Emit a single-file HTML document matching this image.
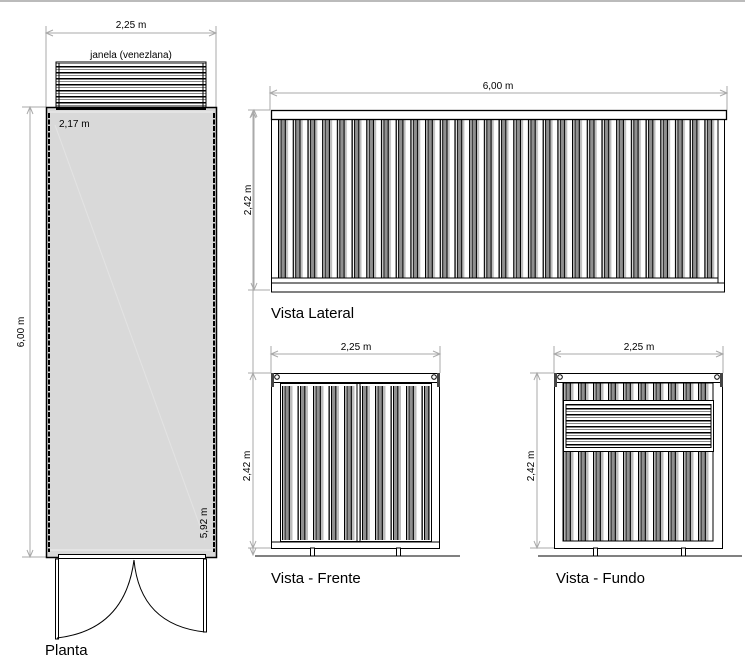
<!DOCTYPE html>
<html><head><meta charset="utf-8"><style>
html,body{margin:0;padding:0;background:#fff;}
svg{display:block;}
text{font-family:"Liberation Sans",sans-serif;fill:#000;}
</style></head><body>
<svg width="745" height="657" viewBox="0 0 745 657" xmlns="http://www.w3.org/2000/svg">
<defs>
<pattern id="corr" x="278" y="0" width="14.7" height="10" patternUnits="userSpaceOnUse">
<rect width="14.7" height="10" fill="#fff"/>
<rect x="0" width="1.3" height="10" fill="#000"/>
<rect x="2.5" width="1.2" height="10" fill="#000"/>
<rect x="3.7" width="3" height="10" fill="#8f8f8f"/>
<rect x="6.7" width="1.2" height="10" fill="#000"/>
<rect x="8" width="2" height="10" fill="#bdbdbd"/>
</pattern>
<pattern id="corr2" x="282" y="0" width="15.5" height="10" patternUnits="userSpaceOnUse">
<rect width="15.5" height="10" fill="#fff"/>
<rect x="0" width="1.3" height="10" fill="#000"/>
<rect x="2.5" width="1.2" height="10" fill="#000"/>
<rect x="3.7" width="3" height="10" fill="#8f8f8f"/>
<rect x="6.7" width="1.2" height="10" fill="#000"/>
<rect x="8" width="2.5" height="10" fill="#bdbdbd"/>
</pattern>
<pattern id="corr3" x="563" y="0" width="15" height="10" patternUnits="userSpaceOnUse">
<rect width="15" height="10" fill="#fff"/>
<rect x="0" width="1.3" height="10" fill="#000"/>
<rect x="2.5" width="1.2" height="10" fill="#000"/>
<rect x="3.7" width="3" height="10" fill="#8f8f8f"/>
<rect x="6.7" width="1.2" height="10" fill="#000"/>
<rect x="8" width="2.5" height="10" fill="#bdbdbd"/>
</pattern>
<pattern id="louv" x="0" y="0" width="10" height="6" patternUnits="userSpaceOnUse">
<rect width="10" height="6" fill="#fff"/>
<rect y="0" width="10" height="1.5" fill="#000"/>
<rect y="3" width="10" height="1" fill="#888"/>
</pattern>
</defs>
<rect x="0" y="0" width="745" height="2" fill="#bbb"/>

<!-- PLANTA -->
<g stroke="#aaa" stroke-width="1" fill="none">
<line x1="46" y1="26" x2="46" y2="107"/><line x1="216" y1="26" x2="216" y2="107"/>
<line x1="46" y1="33" x2="216" y2="33"/>
<polyline points="53,30 46,33 53,36"/><polyline points="209,30 216,33 209,36"/>
<line x1="22" y1="107" x2="46" y2="107"/><line x1="22" y1="557" x2="46" y2="557"/>
<line x1="30" y1="107" x2="30" y2="557"/>
<polyline points="27,114 30,107 33,114"/><polyline points="27,550 30,557 33,550"/>
<line x1="253" y1="111" x2="253" y2="555"/>
<polyline points="250,118 253,111 256,118"/><polyline points="250,548 253,555 256,548"/>
</g>
<text x="131" y="28" font-size="10" text-anchor="middle">2,25 m</text>
<text x="131" y="58" font-size="10" text-anchor="middle">janela (venezlana)</text>
<text transform="translate(24,332) rotate(-90)" font-size="10" text-anchor="middle">6,00 m</text>
<rect x="56" y="62" width="150" height="45" fill="url(#louv)" stroke="#000" stroke-width="1"/>
<line x1="59" y1="63" x2="59" y2="107" stroke="#000"/><line x1="203" y1="63" x2="203" y2="107" stroke="#000"/>
<rect x="46.5" y="107.5" width="170" height="450" fill="#d9d9d9" stroke="#000" stroke-width="1.5"/>
<line x1="49" y1="113" x2="49" y2="552" stroke="#000" stroke-dasharray="5,1.5" stroke-width="2"/>
<line x1="214" y1="113" x2="214" y2="552" stroke="#000" stroke-dasharray="5,1.5" stroke-width="2"/>
<line x1="50" y1="112" x2="213" y2="112" stroke="#eee"/>
<line x1="50" y1="550" x2="213" y2="550" stroke="#eee"/>
<line x1="55" y1="125" x2="205" y2="540" stroke="#e3e3e3"/>
<rect x="56" y="108" width="150" height="2" fill="#000"/>
<text x="59" y="127" font-size="10">2,17 m</text>
<text transform="translate(207,523) rotate(-90)" font-size="10" text-anchor="middle">5,92 m</text>
<rect x="58.5" y="554.5" width="147" height="4" fill="#fff" stroke="#000"/>
<rect x="55.5" y="559" width="3" height="80" fill="#fff" stroke="#000"/>
<rect x="203.5" y="559" width="3" height="73" fill="#fff" stroke="#000"/>
<path d="M57,638 Q125,630 134,560" fill="none" stroke="#000"/>
<path d="M134,560 Q140,625 205,632" fill="none" stroke="#000"/>
<text x="45" y="655" font-size="15">Planta</text>

<!-- VISTA LATERAL -->
<g stroke="#aaa" fill="none">
<line x1="270" y1="86" x2="270" y2="110"/><line x1="727" y1="86" x2="727" y2="110"/>
<line x1="270" y1="93" x2="727" y2="93"/>
<polyline points="277,90 270,93 277,96"/><polyline points="720,90 727,93 720,96"/>
<line x1="248" y1="110" x2="270" y2="110"/><line x1="248" y1="290" x2="270" y2="290"/>
<line x1="254" y1="110" x2="254" y2="290"/>
<polyline points="251,117 254,110 257,117"/><polyline points="251,283 254,290 257,283"/>
</g>
<text x="498" y="89" font-size="10" text-anchor="middle">6,00 m</text>
<text transform="translate(251,200) rotate(-90)" font-size="10" text-anchor="middle">2,42 m</text>
<rect x="271.5" y="119" width="453" height="173" fill="#fff" stroke="#000"/>
<rect x="278" y="119" width="440" height="159" fill="url(#corr)"/>
<rect x="271.5" y="110.5" width="455" height="9" fill="#fff" stroke="#000" stroke-width="1.3"/>
<line x1="272" y1="278" x2="718" y2="278" stroke="#000"/>
<line x1="272" y1="283" x2="725" y2="283" stroke="#000"/>
<line x1="718" y1="119" x2="718" y2="283" stroke="#000"/>
<text x="271" y="318" font-size="15">Vista Lateral</text>

<!-- VISTA FRENTE -->
<g stroke="#aaa" fill="none">
<line x1="271" y1="346" x2="271" y2="373"/><line x1="440" y1="346" x2="440" y2="373"/>
<line x1="271" y1="354" x2="440" y2="354"/>
<polyline points="278,351 271,354 278,357"/><polyline points="433,351 440,354 433,357"/>
<line x1="248" y1="373" x2="271" y2="373"/><line x1="248" y1="548" x2="271" y2="548"/>
<line x1="253" y1="373" x2="253" y2="548"/>
<polyline points="250,380 253,373 256,380"/><polyline points="250,541 253,548 256,541"/>
</g>
<text x="356" y="350" font-size="10" text-anchor="middle">2,25 m</text>
<text transform="translate(250,466) rotate(-90)" font-size="10" text-anchor="middle">2,42 m</text>
<rect x="271.5" y="373.5" width="168" height="175" fill="#fff" stroke="#000"/>
<rect x="280.5" y="383.5" width="151" height="158" fill="#fff" stroke="#000"/>
<rect x="282" y="386" width="148" height="154" fill="url(#corr2)"/>
<line x1="357" y1="383" x2="357" y2="542" stroke="#000"/><line x1="360" y1="383" x2="360" y2="542" stroke="#000"/>
<rect x="271.5" y="373.5" width="168" height="9" fill="#fff" stroke="#000"/>
<rect x="271" y="373" width="3" height="14" fill="#444"/><rect x="437" y="373" width="3" height="14" fill="#444"/>
<circle cx="277" cy="377" r="2.3" fill="#fff" stroke="#000"/><circle cx="434" cy="377" r="2.3" fill="#fff" stroke="#000"/>
<line x1="271" y1="542" x2="440" y2="542" stroke="#000"/>
<rect x="310.5" y="548" width="4" height="8" fill="#fff" stroke="#000"/>
<rect x="396.5" y="548" width="4" height="8" fill="#fff" stroke="#000"/>
<line x1="255" y1="556" x2="460" y2="556" stroke="#000"/>
<text x="271" y="583" font-size="15">Vista - Frente</text>

<!-- VISTA FUNDO -->
<g stroke="#aaa" fill="none">
<line x1="554" y1="346" x2="554" y2="373"/><line x1="723" y1="346" x2="723" y2="373"/>
<line x1="554" y1="354" x2="723" y2="354"/>
<polyline points="561,351 554,354 561,357"/><polyline points="716,351 723,354 716,357"/>
<line x1="530" y1="373" x2="554" y2="373"/><line x1="530" y1="548" x2="554" y2="548"/>
<line x1="537" y1="373" x2="537" y2="548"/>
<polyline points="534,380 537,373 540,380"/><polyline points="534,541 537,548 540,541"/>
</g>
<text x="639" y="350" font-size="10" text-anchor="middle">2,25 m</text>
<text transform="translate(534,466) rotate(-90)" font-size="10" text-anchor="middle">2,42 m</text>
<rect x="554.5" y="373.5" width="168" height="175" fill="#fff" stroke="#000"/>
<rect x="563" y="383" width="150" height="158" fill="url(#corr3)" stroke="#000"/>
<rect x="563.5" y="400.5" width="150" height="51" fill="#fff" stroke="#000"/>
<rect x="566" y="404.5" width="145" height="43" fill="url(#louv)" stroke="#000"/>
<line x1="563" y1="541" x2="713" y2="541" stroke="#000"/>
<rect x="554.5" y="373.5" width="168" height="9" fill="#fff" stroke="#000"/>
<rect x="554" y="373" width="3" height="14" fill="#444"/><rect x="720" y="373" width="3" height="14" fill="#444"/>
<circle cx="560" cy="377" r="2.3" fill="#fff" stroke="#000"/><circle cx="717" cy="377" r="2.3" fill="#fff" stroke="#000"/>
<rect x="593.5" y="548" width="4" height="8" fill="#fff" stroke="#000"/>
<rect x="681.5" y="548" width="4" height="8" fill="#fff" stroke="#000"/>
<line x1="538" y1="556" x2="742" y2="556" stroke="#000"/>
<text x="556" y="583" font-size="15">Vista - Fundo</text>
</svg>
</body></html>
